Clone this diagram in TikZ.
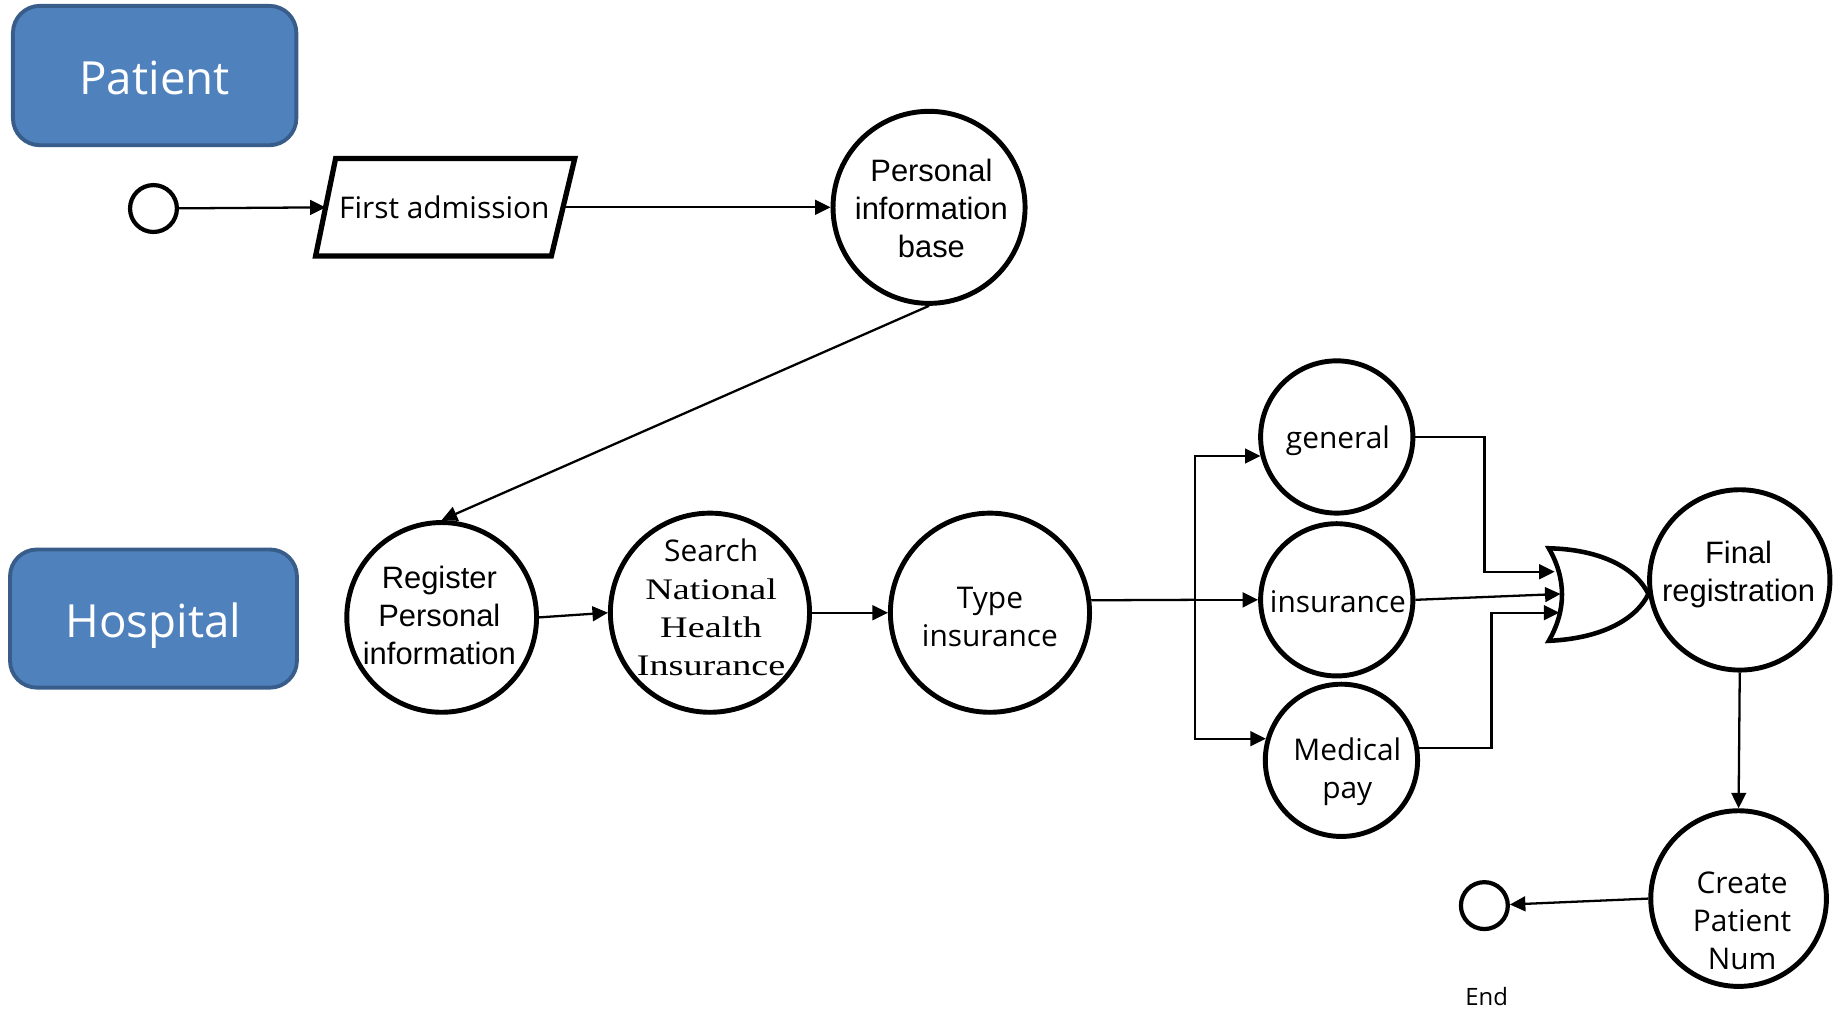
\documentclass[tikz,border=0pt]{standalone}
\usepackage{fontspec}
\usetikzlibrary{arrows.meta,calc}
\newfontfamily\sgfont{Open Sans}
\newfontfamily\arfont{Liberation Sans}
\newfontfamily\btfont{Liberation Serif}[FakeStretch=1.28]
\definecolor{boxfill}{HTML}{4F81BD}
\definecolor{boxline}{HTML}{385D8A}
\begin{document}
\begin{tikzpicture}[x=0.011716cm,y=-0.011716cm,
  lane/.style={rectangle, rounded corners=0.27cm, fill=boxfill, draw=boxline, line width=1.1pt, inner sep=0pt},
  lanetext/.style={text=white, font=\sgfont\fontsize{13pt}{15pt}\selectfont, inner sep=0pt, anchor=base},
  proc/.style={circle, draw, line width=1.4pt, inner sep=0pt},
  term/.style={circle, draw, line width=1.2pt, inner sep=0pt, minimum size=0.469cm},
  sg/.style={font=\sgfont\fontsize{8.5pt}{10.8pt}\selectfont, align=center, inner sep=0pt},
  ar/.style={font=\arfont\fontsize{8.8pt}{10.8pt}\selectfont, align=center, inner sep=0pt},
  flow/.style={line width=0.65pt, -{Triangle[length=4.4pt,width=4.2pt]}},
  plain/.style={line width=0.65pt}]

\useasboundingbox (0,0) rectangle (1568,862);

% swimlane labels
\node[lane, minimum width=2.835cm, minimum height=1.394cm] (patient) at (132,64.5) {};
\node[lanetext] (patientt) at (132,81) {Patient};
\node[lane, minimum width=2.870cm, minimum height=1.382cm] (hospital) at (131,528) {};
\node[lanetext] (hospitalt) at (131,544) {Hospital};

% start / end
\node[term] (start) at (131,178) {};
\node[term] (endc) at (1267,773) {};
\node[sg, font=\sgfont\fontsize{6.8pt}{8pt}\selectfont] (endt) at (1269,851) {End};

% first admission (parallelogram)
\node[sg, minimum width=2.361cm, minimum height=0.961cm] (fa) at (379.25,177) {First admission};
\draw[line width=1.5pt, line join=miter] ([xshift=0.1cm]fa.north west) -- ([xshift=0.117cm]fa.north east) -- ([xshift=-0.117cm]fa.south east) -- ([xshift=-0.1cm]fa.south west) -- cycle;

% process circles
\node[proc, minimum size=1.921cm] (pib) at (793,177) {};
\node[ar] (pibt) at (795,178) {Personal\\information\\base};

\node[proc, minimum size=1.898cm] (reg) at (377,527) {};
\node[ar] (regt) at (375,525) {Register\\Personal\\information};

\node[proc, minimum size=1.992cm] (search) at (606,523) {};
\node[sg] (searcht) at (607,518.5) {Search\\{\btfont National}\\{\btfont Health}\\{\btfont Insurance}};

\node[proc, minimum size=1.992cm] (type) at (845,523) {};
\node[sg] (typet) at (845,527) {Type\\insurance};

\node[proc, minimum size=1.523cm] (gen) at (1141,373) {};
\node[sg] (gent) at (1142,376) {general};

\node[proc, minimum size=1.523cm] (ins) at (1141,512) {};
\node[sg] (inst) at (1142,514) {insurance};

\node[proc, minimum size=1.523cm] (med) at (1145,649) {};
\node[sg] (medt) at (1150,659) {Medical\\pay};

\node[proc, minimum size=1.804cm] (fin) at (1485,495) {};
\node[ar] (fint) at (1484,490) {Final\\registration};

\node[proc, minimum size=1.757cm] (cpn) at (1484,767) {};
\node[sg] (cpnt) at (1487,786) {Create\\Patient\\Num};

% OR gate
\coordinate (orTL) at (1322,468);
\coordinate (orBL) at (1322,547);
\coordinate (orTip) at (1407,507);
\draw[line width=1.3pt, line join=miter] (orTL) .. controls (1337,494) and (1337,521) .. (orBL)
  .. controls (1368,545) and (1397,528) .. (orTip)
  .. controls (1397,486) and (1368,469) .. (orTL) -- cycle;
\coordinate (or1) at (1327,488);
\coordinate (or2) at (1332,507);
\coordinate (or3) at (1331,523);
\coordinate (k1) at (1267,488);
\coordinate (k3) at (1273,523);
\coordinate (j) at (1020,512);

% connectors
\draw[flow] (start) -- (fa.west);
\draw[flow] (fa.east) -- (pib);
\draw[flow] (pib.south) -- (reg.north);
\draw[flow] (reg.east) -- (search.west);
\draw[flow] (search.east) -- (type.west);
\draw[plain] (type.7) -- (j);
\draw[flow] (j) |- (gen.194);
\draw[flow] (j) -- (ins.west);
\draw[flow] (j) |- (med.164);
\draw[flow] (gen.east) -| (k1) -- (or1);
\draw[flow] (ins.east) -- (or2);
\draw[flow] (med.9) -| (k3) -- (or3);
\draw[flow] (fin.south) -- (cpn.north);
\draw[flow] (cpn.west) -- (endc);
\end{tikzpicture}
\end{document}
